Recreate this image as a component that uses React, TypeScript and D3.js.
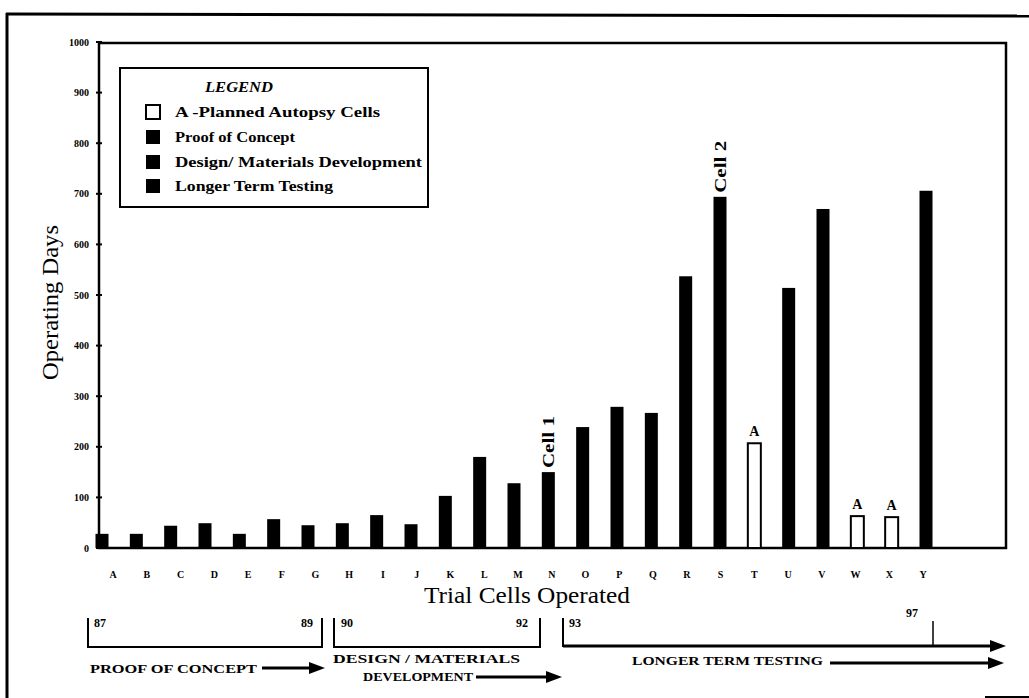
import React from "react";
import * as d3 from "d3";

const cells = ["A","B","C","D","E","F","G","H","I","J","K","L","M","N","O","P","Q","R","S","T","U","V","W","X","Y"];
const operatingDays = [28,28,44,49,28,57,45,49,65,47,103,180,128,150,239,279,267,537,694,207,514,670,63,61,706];
const autopsyCells = ["T","W","X"];
const yTicks = [0,100,200,300,400,500,600,700,800,900,1000];
const legendItems = ["A -Planned Autopsy Cells","Proof of Concept","Design/ Materials Development","Longer Term Testing"];
const legendWidths = [205, 120, 247, 158];
const cellNotes = [{ cell: "N", text: "Cell 1" }, { cell: "S", text: "Cell 2" }];

const SERIF = "'Liberation Serif', 'DejaVu Serif', serif";

export default function App() {
  const W = 1029, H = 698;
  const plot = { left: 99, right: 1006, top: 43, bottom: 548 };
  const y = d3.scaleLinear().domain([0, 1000]).range([548, 42]);
  const xBar = d3.scalePoint<string>().domain(cells).range([102, 926]);
  const xLab = d3.scalePoint<string>().domain(cells).range([113, 923]);
  const barW = 13;

  const arrow = (x1: number, x2: number, yy: number, sw = 3) => (
    <g>
      <line x1={x1} x2={x2 - 12} y1={yy} y2={yy} stroke="#000" strokeWidth={sw} />
      <path d={`M${x2 - 16},${yy - 6} L${x2},${yy} L${x2 - 16},${yy + 6} Z`} fill="#000" />
    </g>
  );

  return (
    <div style={{ position: "absolute", left: 0, top: 0 }}>
      <svg width={W} height={H} style={{ display: "block", background: "#fff" }}>
        {/* outer frame */}
        <line x1={6} x2={1029} y1={14} y2={16} stroke="#000" strokeWidth={3} />
        <line x1={7} x2={7} y1={13} y2={698} stroke="#000" strokeWidth={3} />
        <line x1={985} x2={1029} y1={697} y2={697} stroke="#000" strokeWidth={2} />

        {/* plot frame */}
        <rect x={plot.left} y={plot.top} width={plot.right - plot.left} height={plot.bottom - plot.top}
          fill="none" stroke="#000" strokeWidth={2.5} />

        {/* y ticks */}
        {yTicks.map(t => (
          <g key={t}>
            <line x1={plot.left - 3} x2={plot.left + 3} y1={y(t)} y2={y(t)} stroke="#000" strokeWidth={2} />
            <text x={89} y={y(t)} textAnchor="end" dominantBaseline="central"
              fontFamily={SERIF} fontWeight="bold" fontSize={10}>{t}</text>
          </g>
        ))}

        {/* bars */}
        {cells.map((c, i) => {
          const v = operatingDays[i];
          const cx = xBar(c)!;
          const isA = autopsyCells.includes(c);
          return (
            <g key={c}>
              <rect x={cx - barW / 2} y={y(v)} width={barW} height={y(0) - y(v)}
                fill={isA ? "#fff" : "#000"} stroke="#000" strokeWidth={isA ? 2 : 0} />
              {isA && (
                <text x={cx} y={y(v) - 7} textAnchor="middle" fontFamily={SERIF}
                  fontWeight="bold" fontSize={14}>A</text>
              )}
            </g>
          );
        })}

        {/* cell notes */}
        {cellNotes.map(n => {
          const i = cells.indexOf(n.cell);
          const cx = xBar(n.cell)!;
          const top = y(operatingDays[i]) - 4;
          return (
            <text key={n.text} transform={`translate(${cx},${top}) rotate(-90)`}
              dominantBaseline="central" fontFamily={SERIF} fontWeight="bold" fontSize={16}
              textLength={52} lengthAdjust="spacingAndGlyphs">{n.text}</text>
          );
        })}

        {/* x labels */}
        {cells.map(c => (
          <text key={c} x={xLab(c)} y={574} textAnchor="middle" dominantBaseline="central"
            fontFamily={SERIF} fontWeight="bold" fontSize={10}>{c}</text>
        ))}

        {/* axis titles */}
        <text x={424} y={603} fontFamily={SERIF} fontSize={23}
          textLength={206} lengthAdjust="spacingAndGlyphs">Trial Cells Operated</text>
        <text transform="translate(58,380) rotate(-90)" fontFamily={SERIF} fontSize={23}
          textLength={155} lengthAdjust="spacingAndGlyphs">Operating Days</text>

        {/* legend */}
        <rect x={120} y={68} width={308} height={139} fill="#fff" stroke="#000" strokeWidth={2} />
        <text x={205} y={87} dominantBaseline="central" fontFamily={SERIF}
          fontWeight="bold" fontStyle="italic" fontSize={14} textLength={68}
          lengthAdjust="spacingAndGlyphs">LEGEND</text>
        {legendItems.map((t, i) => {
          const cy = [112, 137, 162, 186][i];
          return (
            <g key={t}>
              <rect x={146} y={cy - 7} width={14} height={14} fill={i === 0 ? "#fff" : "#000"}
                stroke="#000" strokeWidth={i === 0 ? 2 : 0} />
              <text x={175} y={cy} dominantBaseline="central" fontFamily={SERIF}
                fontWeight="bold" fontSize={14} textLength={legendWidths[i]}
                lengthAdjust="spacingAndGlyphs">{t}</text>
            </g>
          );
        })}

        {/* timeline brackets */}
        <g stroke="#000" fill="none">
          <path d="M88,618 L88,647 L322,647 L322,618" strokeWidth={2} />
          <path d="M334,618 L334,647 L540,647 L540,618" strokeWidth={2} />
          <line x1={563} x2={563} y1={618} y2={647} strokeWidth={2} />
          <line x1={933} x2={933} y1={621} y2={646} strokeWidth={1.5} />
        </g>
        {arrow(563, 1006, 646, 3)}
        <g fontFamily={SERIF} fontWeight="bold" fontSize={12}>
          <text x={94} y={627}>87</text>
          <text x={301} y={627}>89</text>
          <text x={341} y={627}>90</text>
          <text x={516} y={627}>92</text>
          <text x={569} y={627}>93</text>
          <text x={906} y={617}>97</text>
        </g>

        {/* phase labels */}
        <g fontFamily={SERIF} fontWeight="bold" fontSize={13}>
          <text x={90} y={673} textLength={167} lengthAdjust="spacingAndGlyphs">PROOF OF CONCEPT</text>
          <text x={333} y={663} textLength={187} lengthAdjust="spacingAndGlyphs">DESIGN / MATERIALS</text>
          <text x={363} y={681} textLength={110} lengthAdjust="spacingAndGlyphs">DEVELOPMENT</text>
          <text x={632} y={665} textLength={191} lengthAdjust="spacingAndGlyphs">LONGER TERM TESTING</text>
        </g>
        {arrow(262, 325, 668, 3)}
        {arrow(476, 562, 677, 3)}
        {arrow(830, 1004, 663, 3)}
      </svg>
    </div>
  );
}
